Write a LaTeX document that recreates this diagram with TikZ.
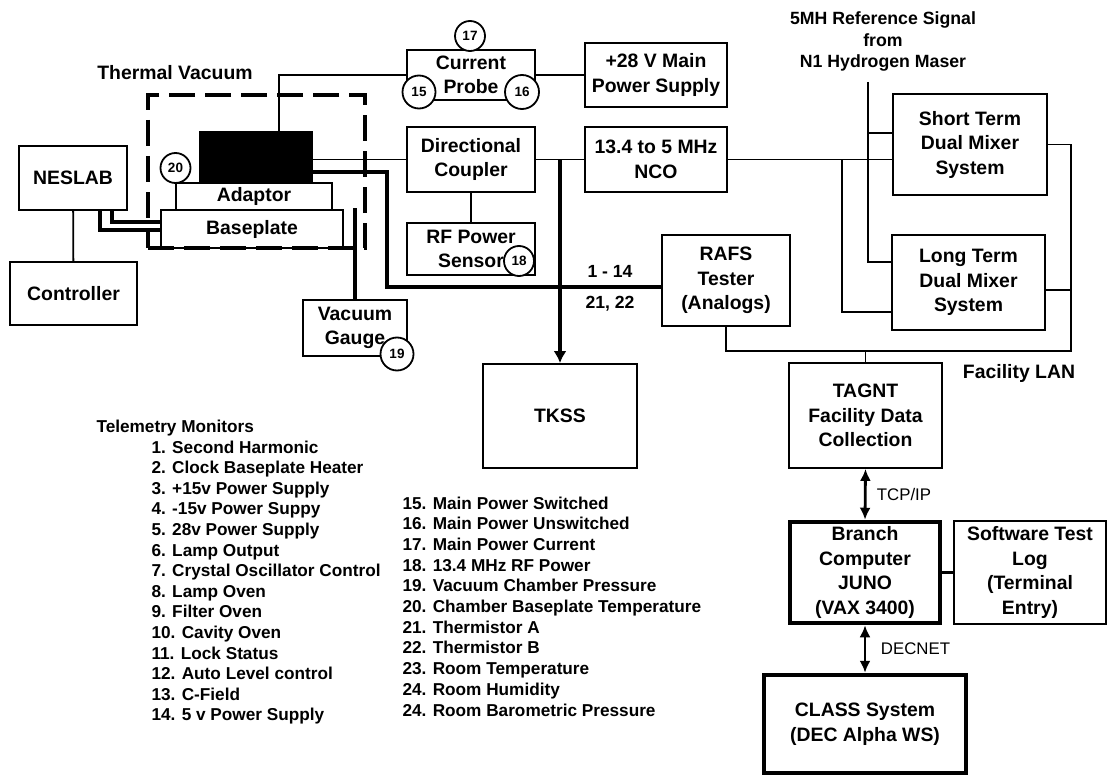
\documentclass[tikz,border=0pt]{standalone}
\usepackage{fontspec}
\setmainfont{Liberation Sans}
\usetikzlibrary{arrows.meta}
\usetikzlibrary{calc}

\newcommand{\blockfont}{\fontsize{19.4}{24.5}\selectfont\bfseries}
\newcommand{\listfont}{\fontsize{17.2}{20.6}\selectfont\bfseries}
\newcommand{\numfont}{\fontsize{13.5}{14}\selectfont\bfseries}
\newcommand{\reffont}{\fontsize{17.7}{21.5}\selectfont\bfseries}
\newcommand{\lblfont}{\fontsize{17.6}{20}\selectfont\bfseries}
\newcommand{\netfont}{\fontsize{16.8}{20}\selectfont}

\begin{document}
\begin{tikzpicture}[x=1pt, y=-1pt]
    \tikzset{
        block/.style={draw, line width=1.8pt, align=center, inner sep=0pt, font=\blockfont},
        heavyblock/.style={block, line width=4.5pt},
        wire/.style={line width=1.8pt},
        cable/.style={line width=3.8pt},
        tag/.style={draw, circle, fill=white, line width=1.8pt, inner sep=0pt, minimum size=30pt, font=\numfont},
        link/.style={line width=2.8pt, {Latex[length=12pt,width=11pt]}-{Latex[length=12pt,width=11pt]}}
    }
    \useasboundingbox (0,0) rectangle (1107,778);

    % thermal vacuum chamber
    \node[draw, line width=3.5pt, dash pattern=on 26pt off 10pt, inner sep=0pt,
          minimum width=217pt, minimum height=153pt] (chamber) at (256.5,171.5) {};
    \node[font=\blockfont] (thermal) at (175,73) {Thermal Vacuum};

    % boxes on the left
    \node[block, minimum width=108pt, minimum height=64pt] (neslab) at (73,178) {NESLAB};
    \node[block, minimum width=127pt, minimum height=63pt] (controller) at (73.5,293.5) {Controller};
    \node[block, fill=black, minimum width=112pt, minimum height=51pt] (rafs) at (256,157.5) {};
    \node[block, minimum width=156pt, minimum height=27pt] (adaptor) at (254,196.5) {Adaptor};
    \node[block, minimum width=182pt, minimum height=38pt] (baseplate) at (252,229) {Baseplate};
    \node[block, minimum width=104pt, minimum height=56pt] (gauge) at (355,328) {Vacuum\\Gauge};

    % boxes in the middle
    \node[block, minimum width=128pt, minimum height=50pt] (probe) at (471,75) {Current\\Probe};
    \node[block, minimum width=142pt, minimum height=64pt] (supply) at (656,75) {+28 V Main\\Power Supply};
    \node[block, minimum width=128pt, minimum height=65pt] (coupler) at (471,159.5) {Directional\\Coupler};
    \node[block, minimum width=142pt, minimum height=65pt] (nco) at (656,159.5) {13.4 to 5 MHz\\NCO};
    \node[block, minimum width=128pt, minimum height=52pt] (sensor) at (471,249) {RF Power\\Sensor};
    \node[block, minimum width=154pt, minimum height=104pt] (tkss) at (560,416) {TKSS};
    \node[block, minimum width=128pt, minimum height=91pt] (tester) at (726,280.5) {RAFS\\Tester\\(Analogs)};

    % boxes on the right
    \node[font=\reffont, align=center] (refsignal) at (883,41.5) {5MH Reference Signal\\from\\N1 Hydrogen Maser};
    \node[block, minimum width=154pt, minimum height=101pt] (shortterm) at (970,144.5) {Short Term\\Dual Mixer\\System};
    \node[block, minimum width=153pt, minimum height=95pt] (longterm) at (968.5,282.5) {Long Term\\Dual Mixer\\System};
    \node[block, minimum width=153pt, minimum height=105pt] (tagnt) at (865.5,415.5) {TAGNT\\Facility Data\\Collection};
    \node[font=\blockfont] (lan) at (1019,373) {Facility LAN};
    \node[heavyblock, minimum width=150pt, minimum height=101pt] (branch) at (865,572.5) {Branch\\Computer\\JUNO\\(VAX 3400)};
    \node[block, minimum width=152pt, minimum height=103pt] (testlog) at (1030,572.5) {Software Test\\Log\\(Terminal\\Entry)};
    \node[heavyblock, minimum width=202pt, minimum height=98pt] (classws) at (865,724) {CLASS System\\(DEC Alpha WS)};

    % chiller
    \draw[wire] (neslab) -- (controller);
    \draw[cable] ([xshift=27pt]neslab.south) |- ([yshift=-1pt]baseplate.west);
    \draw[cable] ([xshift=39pt]neslab.south) |- ([yshift=7pt]baseplate.west);

    % power
    \draw[wire] ([xshift=23pt]rafs.north) |- (probe.west);
    \draw[wire] (probe) -- (supply);

    % rf output
    \draw[wire] (coupler.west -| rafs.east) -- (coupler.west);
    \draw[wire] (coupler) -- (nco);
    \draw[wire] (coupler) -- (sensor);
    \draw[cable, -{Latex[length=12pt,width=13pt]}] (tkss.north |- coupler.east) -- (tkss.north);

    % telemetry cable
    \coordinate (cablebend) at (387,287);
    \draw[cable] ([yshift=-14.5pt]rafs.east) -| (cablebend) -- (cablebend -| tester.west);
    \node[font=\lblfont] (analog) at (610,271) {1 - 14};
    \node[font=\lblfont] (thermistors) at (610,304) {21, 22};

    % vacuum gauge
    \coordinate (gaugeport) at (355,208);
    \draw[cable] (gauge.north) -- (gaugeport);

    % mixers
    \draw[wire] (nco.east) -- (nco.east -| shortterm.west);
    \coordinate (ncotap) at (842,159.5);
    \draw[wire] (ncotap) |- ([yshift=-29.5pt]longterm.west);
    \coordinate (reftop) at (868,82);
    \draw[wire] (reftop) |- ([yshift=20.5pt]longterm.west);
    \draw[wire] ([yshift=11.5pt]shortterm.west) -- ([yshift=11.5pt]shortterm.west -| reftop);

    % facility lan
    \coordinate (lancorner) at (1071,351);
    \draw[wire] (shortterm.east) -| (lancorner) -| (tester.south);
    \draw[wire] ([yshift=-7.5pt]longterm.east) -- ([yshift=-7.5pt]longterm.east -| lancorner);
    \draw[wire] (tagnt.north |- lancorner) -- (tagnt.north);

    % computers
    \draw[link] (tagnt.south) -- (branch.north);
    \node[font=\netfont] (tcpip) at (904,494) {TCP/IP};
    \draw[link] (branch.south) -- (classws.north);
    \node[font=\netfont] (decnet) at (915.5,649) {DECNET};
    \draw[line width=3pt] (branch) -- (testlog);

    % monitor numbers
    \node[tag] (tag17) at (470,36) {17};
    \node[tag, minimum size=33pt] (tag15) at (419,92) {15};
    \node[tag, minimum size=34pt] (tag16) at (522,92) {16};
    \node[tag] (tag18) at (519,261) {18};
    \node[tag, minimum size=33pt] (tag19) at (397,354) {19};
    \node[tag] (tag20) at (175.5,168) {20};

    % telemetry list
    \node[anchor=base west, font=\listfont] (monitors) at (93,432) {Telemetry Monitors};
    \foreach \entry [count=\i] in {1. Second Harmonic, 2. Clock Baseplate Heater,
        3. +15v Power Supply, 4. -15v Power Suppy, 5. 28v Power Supply, 6. Lamp Output,
        7. Crystal Oscillator Control, 8. Lamp Oven, 9. Filter Oven, 10. Cavity Oven,
        11. Lock Status, 12. Auto Level control, 13. C-Field, 14. 5 v Power Supply}
        \node[anchor=base west, font=\listfont] (mon\i) at (148,{453+20.6*(\i-1)}) {\entry};
    \foreach \entry [count=\i] in {15. Main Power Switched, 16. Main Power Unswitched,
        17. Main Power Current, 18. 13.4 MHz RF Power, 19. Vacuum Chamber Pressure,
        20. Chamber Baseplate Temperature, 21. Thermistor A, 22. Thermistor B,
        23. Room Temperature, 24. Room Humidity, 24. Room Barometric Pressure}
        \node[anchor=base west, font=\listfont] (env\i) at (399,{509+20.7*(\i-1)}) {\entry};

\end{tikzpicture}
\end{document}
